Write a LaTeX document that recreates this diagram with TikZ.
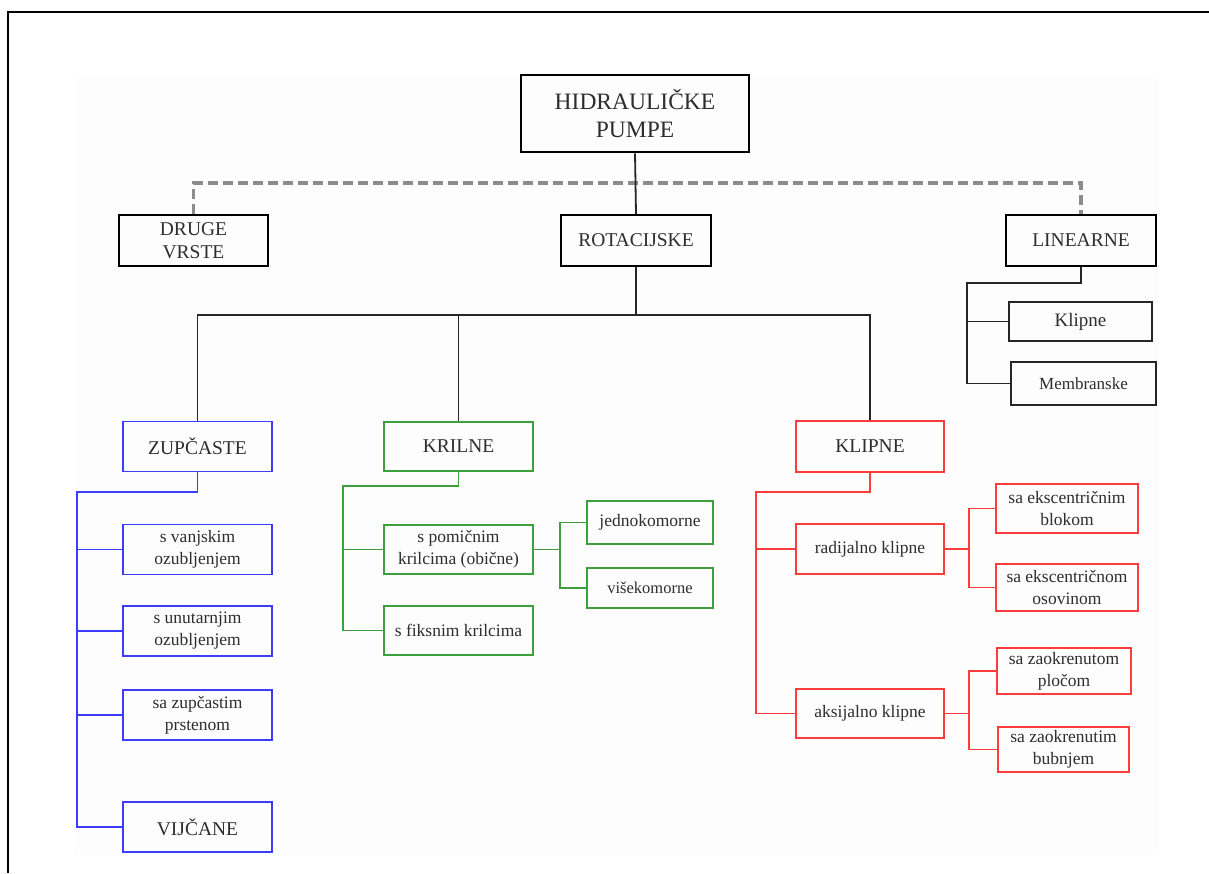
\documentclass[tikz,border=0pt]{standalone}
\usepackage{fontspec}
\setmainfont{Liberation Serif}
\definecolor{txt}{RGB}{45,45,45}
\definecolor{cblue}{RGB}{60,60,255}
\definecolor{cgreen}{RGB}{60,160,60}
\definecolor{cred}{RGB}{255,60,60}
\definecolor{cdash}{RGB}{140,140,140}
\tikzset{
  base/.style={draw, rectangle, inner sep=0pt, align=center, text=txt},
  topbox/.style={base, line width=2.6pt, font=\rmfamily\fontsize{23.5}{28.8}\selectfont},
  mainbox/.style={base, line width=2.4pt, minimum width=150pt, minimum height=51pt, font=\rmfamily\fontsize{19.5}{23}\selectfont},
  linbox/.style={base, line width=1.6pt, draw=black!85, minimum width=145pt},
  bluebox/.style={base, line width=1.8pt, draw=cblue, minimum width=149pt, minimum height=50pt},
  greenbox/.style={base, line width=1.8pt, draw=cgreen},
  redbox/.style={base, line width=1.8pt, draw=cred},
  bigtxt/.style={font=\rmfamily\fontsize{19.5}{23}\selectfont},
  smalltxt/.style={font=\rmfamily\fontsize{17.5}{22}\selectfont},
  conn/.style={line width=1.8pt, draw=black!85},
  bconn/.style={line width=1.9pt, draw=cblue},
  gconn/.style={line width=1.7pt, draw=cgreen},
  rconn/.style={line width=1.7pt, draw=cred},
  dashline/.style={line width=3.2pt, draw=cdash, dash pattern=on 10pt off 5pt}
}
\begin{document}
\begin{tikzpicture}[x=1pt, y=-1pt]
\useasboundingbox (0,0) rectangle (1209,873);
\fill[black!0.8] (75,75) rectangle (1158,855);
\draw[line width=2.4pt, black] (8,873) -- (8,12) -- (1209,12);

% top level
\node[topbox, minimum width=228pt, minimum height=77pt] (hp) at (635,113.5) {HIDRAULIČKE\\PUMPE};
\node[mainbox, minimum width=149pt] (druge) at (193.5,240.5) {DRUGE\\VRSTE};
\node[mainbox] (rot) at (636,240.5) {ROTACIJSKE};
\node[mainbox] (lin) at (1081,240.5) {LINEARNE};

% linear
\node[linbox, minimum width=143pt, minimum height=39pt, font=\rmfamily\fontsize{19}{23}\selectfont] (lklip) at (1080.5,321.5) {Klipne};
\node[linbox, minimum height=43pt, font=\rmfamily\fontsize{17}{21}\selectfont] (lmemb) at (1083.5,383.5) {Membranske};

% zupcaste (blue)
\node[bluebox, bigtxt] (zup) at (197.5,446.5) {ZUPČASTE};
\node[bluebox, smalltxt] (zv) at (197.5,549.5) {s vanjskim\\ozubljenjem};
\node[bluebox, smalltxt] (zu) at (197.5,631) {s unutarnjim\\ozubljenjem};
\node[bluebox, smalltxt] (zp) at (197.5,715) {sa zupčastim\\prstenom};
\node[bluebox, bigtxt] (vij) at (197.5,827) {VIJČANE};

% krilne (green)
\node[greenbox, bigtxt, minimum width=149pt, minimum height=49pt] (kri) at (458.5,446.5) {KRILNE};
\node[greenbox, smalltxt, minimum width=149pt, minimum height=49pt] (kpom) at (458.5,549.5) {s pomičnim\\krilcima (obične)};
\node[greenbox, smalltxt, minimum width=149pt, minimum height=49pt] (kfix) at (458.5,630.5) {s fiksnim krilcima};
\node[greenbox, smalltxt, minimum width=126pt, minimum height=43pt] (kjed) at (650,522.5) {jednokomorne};
\node[greenbox, font=\rmfamily\fontsize{16.5}{20}\selectfont, minimum width=126pt, minimum height=40pt] (kvis) at (650,588) {višekomorne};

% klipne (red)
\node[redbox, bigtxt, minimum width=148pt, minimum height=51pt] (kl) at (870,446.5) {KLIPNE};
\node[redbox, smalltxt, minimum width=148pt, minimum height=50pt] (krad) at (870,549) {radijalno klipne};
\node[redbox, smalltxt, minimum width=148pt, minimum height=49pt] (kaks) at (870,713.5) {aksijalno klipne};
\node[redbox, smalltxt, minimum width=142pt, minimum height=49pt] (keb) at (1067,508.5) {sa ekscentričnim\\blokom};
\node[redbox, smalltxt, minimum width=142pt, minimum height=47pt] (keo) at (1067,587.5) {sa ekscentričnom\\osovinom};
\node[redbox, smalltxt, minimum width=134pt, minimum height=46pt] (kzp) at (1064,671) {sa zaokrenutom\\pločom};
\node[redbox, smalltxt, minimum width=131pt, minimum height=45pt] (kzb) at (1063.5,749.5) {sa zaokrenutim\\bubnjem};

% bus coordinates
\coordinate (dbus) at (636,183);
\coordinate (rbus) at (636,315);
\coordinate (lbus) at (967,283);
\coordinate (zbus) at (77,492);
\coordinate (kbus) at (343,486);
\coordinate (kjunc) at (560,549.5);
\coordinate (klbus) at (756,492);
\coordinate (rj) at (969,549);
\coordinate (aj) at (969,713.5);

% connectors
\draw[dashline] (druge.north) |- (dbus) -| (lin.north);
\draw[conn] (hp.south) -- (rot.north);
\draw[conn] (rot.south) -- (rbus);
\draw[conn] (zup.north) |- (rbus) -| (kl.north);
\draw[conn] (rbus) -| (kri.north);
\draw[conn] (lin.south) |- (lbus) |- (lmemb.west);
\draw[conn] (lbus) |- (lklip.west);

\draw[bconn] (zup.south) |- (zbus) |- (vij.west);
\draw[bconn] (zbus) |- (zv.west);
\draw[bconn] (zbus) |- (zu.west);
\draw[bconn] (zbus) |- (zp.west);

\draw[gconn] (kri.south) |- (kbus) |- (kfix.west);
\draw[gconn] (kbus) |- (kpom.west);
\draw[gconn] (kpom.east) -- (kjunc);
\draw[gconn] (kjed.west) -| (kjunc) |- (kvis.west);

\draw[rconn] (kl.south) |- (klbus) |- (kaks.west);
\draw[rconn] (klbus) |- (krad.west);
\draw[rconn] (krad.east) -- (rj);
\draw[rconn] (keb.west) -| (rj) |- (keo.west);
\draw[rconn] (kaks.east) -- (aj);
\draw[rconn] (kzp.west) -| (aj) |- (kzb.west);
\end{tikzpicture}
\end{document}
